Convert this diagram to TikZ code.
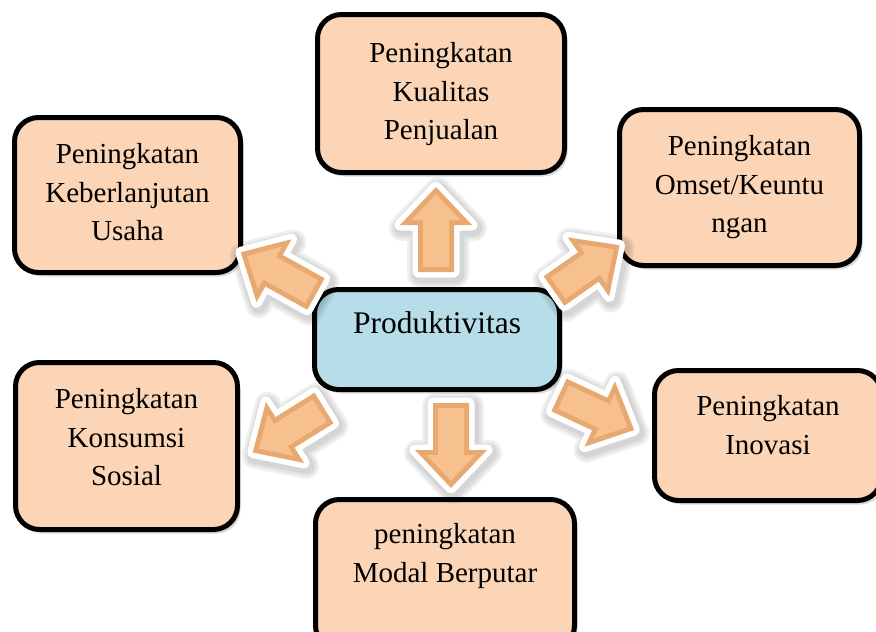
\documentclass[tikz,border=0pt]{standalone}
\usepackage{fontspec}
\setmainfont{Liberation Serif}
\usetikzlibrary{shadows}
\definecolor{peach}{HTML}{FBD5B5}
\definecolor{skyfill}{HTML}{B6DDE8}
\definecolor{arrowrim}{HTML}{E8A970}
\definecolor{arrowface}{HTML}{F6C18E}

% Block arrow: tail centre (#1,#2), direction #3 (degrees), length #4
\newcommand\flowarrow[4]{%
  \pgfmathsetmacro\arhb{#4-38}%
  \pgfmathsetmacro\arihb{#4-33}%
  \pgfmathsetmacro\aritip{#4-7.3}%
  \begin{scope}[shift={(#1+2,#2+3)},rotate=#3]
    \foreach \w in {26,21,16}{%
      \draw[black, opacity=0.06, line width=\w pt, line join=round]
        (0,-18) -- (\arhb,-18) -- (\arhb,-36) -- (#4,0) -- (\arhb,36) -- (\arhb,18) -- (0,18) -- cycle;}
  \end{scope}
  \begin{scope}[shift={(#1,#2)},rotate=#3]
    \draw[white, fill=white, line width=11pt, line join=round]
      (0,-18) -- (\arhb,-18) -- (\arhb,-36) -- (#4,0) -- (\arhb,36) -- (\arhb,18) -- (0,18) -- cycle;
    \fill[arrowrim]
      (0,-18) -- (\arhb,-18) -- (\arhb,-36) -- (#4,0) -- (\arhb,36) -- (\arhb,18) -- (0,18) -- cycle;
    \fill[arrowface]
      (5,-13) -- (\arihb,-13) -- (\arihb,-24.4) -- (\aritip,0) -- (\arihb,24.4) -- (\arihb,13) -- (5,13) -- cycle;
  \end{scope}}

\begin{document}
\begin{tikzpicture}[x=1pt,y=-1pt,
  box/.style={draw=black, line width=5pt, rounded corners=24pt, fill=peach, inner sep=0pt,
    drop shadow={shadow xshift=3pt, shadow yshift=-4pt, opacity=0.15, fill=black}},
  hub/.style={box, fill=skyfill},
  boxtext/.style={align=center, inner sep=0pt, anchor=north, font=\fontsize{29}{38.5}\selectfont},
  hubtext/.style={boxtext, font=\fontsize{31.5}{38.5}\selectfont}]
\useasboundingbox (0,0) rectangle (876,632);
\clip (0,0) rectangle (876,632);

% outcome boxes
\node[box, minimum width=247pt, minimum height=158pt] (kualitas) at (441,93.5) {};
\node[box, minimum width=226pt, minimum height=155pt] (usaha) at (127.5,195) {};
\node[box, minimum width=240pt, minimum height=156pt] (omset) at (739.5,187.5) {};
\node[box, minimum width=222pt, minimum height=167pt] (sosial) at (126.5,446) {};
\node[box, minimum width=227pt, minimum height=130pt] (inovasi) at (768,435.5) {};
\node[box, minimum width=259pt, minimum height=150pt] (modal) at (445,574.5) {};
% central box
\node[hub, minimum width=245pt, minimum height=100pt] (prod) at (437,339.5) {};

% labels
\node[boxtext] (tkualitas) at (441,42.2) {Peningkatan\\Kualitas\\Penjualan};
\node[boxtext] (tusaha) at (127.5,143.2) {Peningkatan\\Keberlanjutan\\Usaha};
\node[boxtext] (tomset) at (739.5,135.2) {Peningkatan\\Omset/Keuntu\\ngan};
\node[boxtext] (tsosial) at (126.5,388.2) {Peningkatan\\Konsumsi\\Sosial};
\node[boxtext] (tinovasi) at (768,395.2) {Peningkatan\\Inovasi};
\node[boxtext] (tmodal) at (445,523.2) {peningkatan\\Modal Berputar};
\node[hubtext] (tprod) at (437,311.5) {Produktivitas};

% block arrows radiating from the centre
\flowarrow{436}{272}{90}{85}
\flowarrow{451}{403}{-90}{85}
\flowarrow{316}{294}{151}{86}
\flowarrow{554}{291}{35}{80}
\flowarrow{324}{408}{212}{84}
\flowarrow{559}{395}{-25}{83}
\end{tikzpicture}
\end{document}
